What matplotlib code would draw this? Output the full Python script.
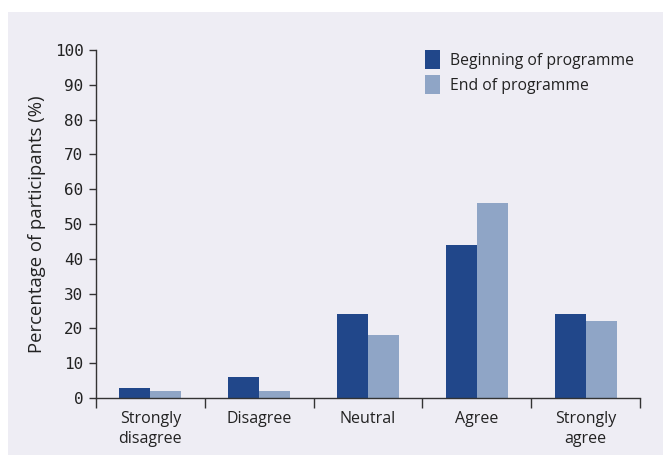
import matplotlib
matplotlib.use("Agg")
import matplotlib.pyplot as plt
from matplotlib.patches import Rectangle
import numpy as np

# survey responses, % of participants
categories = ["Strongly\ndisagree", "Disagree", "Neutral", "Agree", "Strongly\nagree"]
beginning = [3, 6, 24, 44, 24]
end = [2, 2, 18, 56, 22]
series_names = ["Beginning of programme", "End of programme"]

dark = "#21478a"
light = "#8fa5c6"
panel = "#eeedf4"
ink = "#222222"

fig = plt.figure(figsize=(6.63, 4.58), dpi=100)
fig.patch.set_facecolor("white")
fig.patches.append(Rectangle((8 / 663, 3 / 458), 1 - 8 / 663, 443 / 458,
                             transform=fig.transFigure, facecolor=panel,
                             edgecolor="none", zorder=-10))

ax = fig.add_axes([96 / 663, 60 / 458, 544 / 663, 348 / 458])
ax.set_facecolor("none")
ax.set_zorder(1)

x = np.arange(len(categories))
w = 0.285
ax.bar(x - w / 2, beginning, w, color=dark, label=series_names[0], zorder=2)
ax.bar(x + w / 2, end, w, color=light, label=series_names[1], zorder=2)

ax.set_xlim(-0.5, len(categories) - 0.5)
ax.set_ylim(0, 100)

for s in ["top", "right"]:
    ax.spines[s].set_visible(False)
for s in ["left", "bottom"]:
    ax.spines[s].set_color("#333333")
    ax.spines[s].set_linewidth(1.0)

ax.set_yticks(np.arange(0, 101, 10))
ax.tick_params(axis="y", length=5, width=1, color="#333333", pad=4,
               labelsize=11.5, labelcolor=ink)
for lab in ax.get_yticklabels():
    lab.set_family("DejaVu Sans Mono")

ax.set_xticks(np.arange(-0.5, len(categories), 1.0))
ax.set_xticklabels([])
ax.tick_params(axis="x", length=7, width=1, color="#333333")
for i, c in enumerate(categories):
    ax.text(i, -3.6, c, ha="center", va="top", fontsize=11.5, color=ink,
            family="Open Sans", linespacing=1.35)

ax.set_ylabel("Percentage of participants (%)", fontsize=13.3, color=ink,
              family="Open Sans", labelpad=6)

ax.legend(loc="upper left", bbox_to_anchor=(0.578, 1.04), frameon=False,
          prop={"family": "Open Sans", "size": 11.3}, handlelength=1.0,
          handleheight=1.45, handletextpad=0.6, labelspacing=0.4,
          labelcolor=ink)

plt.savefig("out.png", dpi=100)
